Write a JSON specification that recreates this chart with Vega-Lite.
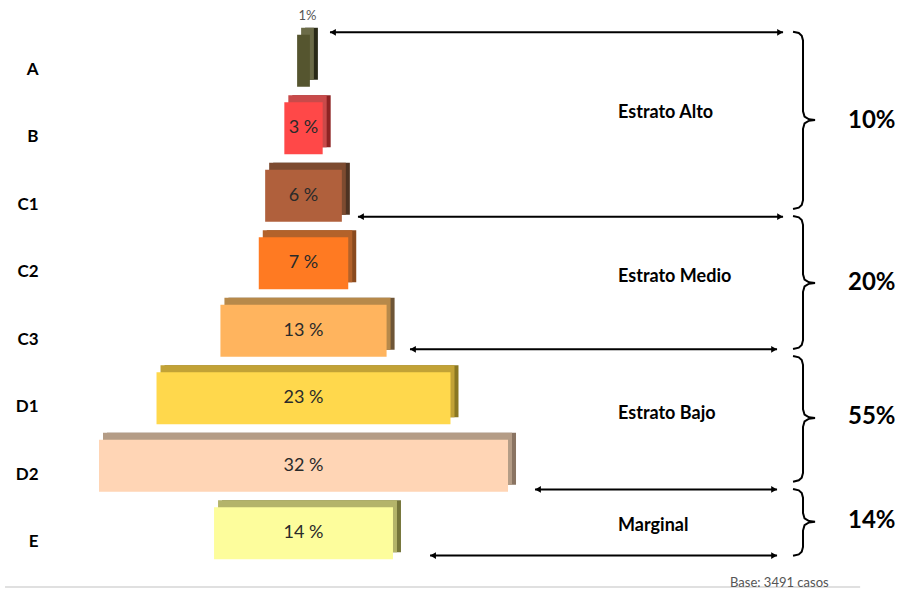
{
  "$schema": "https://vega.github.io/schema/vega-lite/v6.json",
  "width": 854,
  "height": 540,
  "autosize": {"type": "none"},
  "padding": {"left": 45, "top": 27, "right": 0, "bottom": 22},
  "background": "white",
  "config": {"view": {"stroke": null}, "font": "Lato"},
  "datasets": {
    "strata": [
      {"cat": "A", "value": 1, "label": "1%"},
      {"cat": "B", "value": 3, "label": "3 %"},
      {"cat": "C1", "value": 6, "label": "6 %"},
      {"cat": "C2", "value": 7, "label": "7 %"},
      {"cat": "C3", "value": 13, "label": "13 %"},
      {"cat": "D1", "value": 23, "label": "23 %"},
      {"cat": "D2", "value": 32, "label": "32 %"},
      {"cat": "E", "value": 14, "label": "14 %"}
    ],
    "arrows": [
      {"y": 0.079, "x1": 18.07, "x2": 53.52},
      {"y": 2.81, "x1": 20.26, "x2": 53.52},
      {"y": 4.775, "x1": 24.33, "x2": 53.05},
      {"y": 6.85, "x1": 34.11, "x2": 53.05},
      {"y": 7.83, "x1": 25.9, "x2": 53.05}
    ],
    "braces": [
      {"b": 1, "o": 1, "x": 54.3, "y": 0.069}, {"b": 1, "o": 2, "x": 54.75, "y": 0.089}, {"b": 1, "o": 3, "x": 54.98, "y": 0.129}, {"b": 1, "o": 4, "x": 55.08, "y": 0.199}, {"b": 1, "o": 5, "x": 55.08, "y": 1.248}, {"b": 1, "o": 6, "x": 55.2, "y": 1.328}, {"b": 1, "o": 7, "x": 55.55, "y": 1.368}, {"b": 1, "o": 8, "x": 56.02, "y": 1.378}, {"b": 1, "o": 9, "x": 55.55, "y": 1.388}, {"b": 1, "o": 10, "x": 55.2, "y": 1.428}, {"b": 1, "o": 11, "x": 55.08, "y": 1.508}, {"b": 1, "o": 12, "x": 55.08, "y": 2.566}, {"b": 1, "o": 13, "x": 54.98, "y": 2.636}, {"b": 1, "o": 14, "x": 54.75, "y": 2.676}, {"b": 1, "o": 15, "x": 54.3, "y": 2.696},
      {"b": 2, "o": 1, "x": 54.3, "y": 2.8}, {"b": 2, "o": 2, "x": 54.75, "y": 2.82}, {"b": 2, "o": 3, "x": 54.98, "y": 2.86}, {"b": 2, "o": 4, "x": 55.08, "y": 2.93}, {"b": 2, "o": 5, "x": 55.08, "y": 3.663}, {"b": 2, "o": 6, "x": 55.2, "y": 3.743}, {"b": 2, "o": 7, "x": 55.55, "y": 3.783}, {"b": 2, "o": 8, "x": 56.02, "y": 3.793}, {"b": 2, "o": 9, "x": 55.55, "y": 3.803}, {"b": 2, "o": 10, "x": 55.2, "y": 3.843}, {"b": 2, "o": 11, "x": 55.08, "y": 3.923}, {"b": 2, "o": 12, "x": 55.08, "y": 4.64}, {"b": 2, "o": 13, "x": 54.98, "y": 4.71}, {"b": 2, "o": 14, "x": 54.75, "y": 4.75}, {"b": 2, "o": 15, "x": 54.3, "y": 4.77},
      {"b": 3, "o": 1, "x": 54.3, "y": 4.874}, {"b": 3, "o": 2, "x": 54.75, "y": 4.894}, {"b": 3, "o": 3, "x": 54.98, "y": 4.934}, {"b": 3, "o": 4, "x": 55.08, "y": 5.004}, {"b": 3, "o": 5, "x": 55.08, "y": 5.663}, {"b": 3, "o": 6, "x": 55.2, "y": 5.743}, {"b": 3, "o": 7, "x": 55.55, "y": 5.783}, {"b": 3, "o": 8, "x": 56.02, "y": 5.793}, {"b": 3, "o": 9, "x": 55.55, "y": 5.803}, {"b": 3, "o": 10, "x": 55.2, "y": 5.843}, {"b": 3, "o": 11, "x": 55.08, "y": 5.923}, {"b": 3, "o": 12, "x": 55.08, "y": 6.606}, {"b": 3, "o": 13, "x": 54.98, "y": 6.676}, {"b": 3, "o": 14, "x": 54.75, "y": 6.716}, {"b": 3, "o": 15, "x": 54.3, "y": 6.736},
      {"b": 4, "o": 1, "x": 54.3, "y": 6.844}, {"b": 4, "o": 2, "x": 54.75, "y": 6.864}, {"b": 4, "o": 3, "x": 54.98, "y": 6.904}, {"b": 4, "o": 4, "x": 55.08, "y": 6.974}, {"b": 4, "o": 5, "x": 55.08, "y": 7.2}, {"b": 4, "o": 6, "x": 55.2, "y": 7.28}, {"b": 4, "o": 7, "x": 55.55, "y": 7.32}, {"b": 4, "o": 8, "x": 56.02, "y": 7.33}, {"b": 4, "o": 9, "x": 55.55, "y": 7.34}, {"b": 4, "o": 10, "x": 55.2, "y": 7.38}, {"b": 4, "o": 11, "x": 55.08, "y": 7.46}, {"b": 4, "o": 12, "x": 55.08, "y": 7.703}, {"b": 4, "o": 13, "x": 54.98, "y": 7.773}, {"b": 4, "o": 14, "x": 54.75, "y": 7.813}, {"b": 4, "o": 15, "x": 54.3, "y": 7.833}
    ],
    "names": [
      {"t": "Estrato Alto", "x": 40.61, "y": 1.274},
      {"t": "Estrato Medio", "x": 40.61, "y": 3.711},
      {"t": "Estrato Bajo", "x": 40.61, "y": 5.74},
      {"t": "Marginal", "x": 40.61, "y": 7.39}
    ],
    "pcts": [
      {"t": "10%", "x": 58.6, "y": 1.393},
      {"t": "20%", "x": 58.6, "y": 3.79},
      {"t": "55%", "x": 58.6, "y": 5.785},
      {"t": "14%", "x": 58.6, "y": 7.32}
    ],
    "notes": [
      {"t": "Base: 3491 casos", "x": 49.37, "y": 8.237}
    ],
    "baseline": [
      {"x1": -7.35, "x2": 59.55, "y": 8.296}
    ]
  },
  "layer": [
    {
      "data": {"name": "strata"},
      "resolve": {"scale": {"color": "independent"}},
      "layer": [
        {
          "mark": {"type": "bar", "xOffset": 8, "x2Offset": 8, "yOffset": -7, "y2Offset": -7},
          "encoding": {
            "y": {"field": "cat", "type": "nominal", "scale": {"paddingInner": 0.23, "paddingOuter": 0.115}, "axis": {"title": null, "domain": false, "ticks": false, "labelFont": "Lato", "labelFontWeight": "bold", "labelFontSize": 17, "labelColor": "black", "labelPadding": 7, "labelOffset": 9}},
            "x": {"field": "value", "type": "quantitative", "stack": "center", "scale": {"domain": [-4.225, 62.59], "nice": false, "zero": false}, "axis": null},
            "color": {"field": "cat", "type": "nominal", "legend": null, "scale": {"domain": ["A", "B", "C1", "C2", "C3", "D1", "D2", "E"], "range": ["#2a2a18", "#8e2323", "#4e3322", "#8a4a1e", "#6e5536", "#8a7722", "#8a7462", "#75753a"]}}
          }
        },
        {
          "mark": {"type": "bar", "xOffset": 4, "x2Offset": 0.01, "yOffset": -7, "y2Offset": -7},
          "encoding": {
            "y": {"field": "cat", "type": "nominal"},
            "x": {"field": "value", "type": "quantitative", "stack": "center"},
            "color": {"field": "cat", "type": "nominal", "legend": null, "scale": {"domain": ["A", "B", "C1", "C2", "C3", "D1", "D2", "E"], "range": ["#6b6b48", "#c94a4a", "#7d4b30", "#b3622a", "#b7894a", "#c2a236", "#b49c86", "#b4b46a"]}}
          }
        },
        {
          "mark": {"type": "bar"},
          "encoding": {
            "y": {"field": "cat", "type": "nominal"},
            "x": {"field": "value", "type": "quantitative", "stack": "center"},
            "color": {"field": "cat", "type": "nominal", "legend": null, "scale": {"domain": ["A", "B", "C1", "C2", "C3", "D1", "D2", "E"], "range": ["#55552f", "#ff4848", "#b0603c", "#ff7a22", "#ffb45e", "#ffd84c", "#ffd5b5", "#fdfd9c"]}}
          }
        },
        {
          "transform": [{"filter": "datum.value > 1"}],
          "mark": {"type": "text", "font": "Lato", "fontSize": 18, "color": "#2a2a2a"},
          "encoding": {
            "y": {"field": "cat", "type": "nominal"},
            "x": {"datum": 16},
            "text": {"field": "label"}
          }
        },
        {
          "transform": [{"filter": "datum.value == 1"}],
          "mark": {"type": "text", "font": "Lato", "fontSize": 13, "color": "#555555", "dy": -45, "dx": 4},
          "encoding": {
            "y": {"field": "cat", "type": "nominal"},
            "x": {"datum": 16},
            "text": {"field": "label"}
          }
        }
      ]
    },
    {
      "layer": [
        {
          "data": {"name": "baseline"},
          "mark": {"type": "rule", "color": "#e0e0e0", "strokeWidth": 2},
          "encoding": {
            "x": {"field": "x1", "type": "quantitative", "scale": {"domain": [-4.225, 62.59], "nice": false, "zero": false}, "axis": null},
            "x2": {"field": "x2"},
            "y": {"field": "y", "type": "quantitative", "scale": {"domain": [0, 8], "reverse": true, "nice": false, "zero": false}, "axis": null}
          }
        },
        {
          "data": {"name": "arrows"},
          "mark": {"type": "rule", "color": "black", "strokeWidth": 2},
          "encoding": {
            "x": {"field": "x1", "type": "quantitative"},
            "x2": {"field": "x2"},
            "y": {"field": "y", "type": "quantitative"}
          }
        },
        {
          "data": {"name": "arrows"},
          "mark": {"type": "point", "shape": "triangle-left", "filled": true, "color": "black", "opacity": 1, "size": 45, "xOffset": 3},
          "encoding": {
            "x": {"field": "x1", "type": "quantitative"},
            "y": {"field": "y", "type": "quantitative"}
          }
        },
        {
          "data": {"name": "arrows"},
          "mark": {"type": "point", "shape": "triangle-right", "filled": true, "color": "black", "opacity": 1, "size": 45, "xOffset": -3},
          "encoding": {
            "x": {"field": "x2", "type": "quantitative"},
            "y": {"field": "y", "type": "quantitative"}
          }
        },
        {
          "data": {"name": "braces"},
          "mark": {"type": "line", "color": "black", "strokeWidth": 2, "interpolate": "linear"},
          "encoding": {
            "x": {"field": "x", "type": "quantitative"},
            "y": {"field": "y", "type": "quantitative"},
            "detail": {"field": "b", "type": "nominal"},
            "order": {"field": "o", "type": "quantitative"}
          }
        },
        {
          "data": {"name": "names"},
          "mark": {"type": "text", "font": "Lato", "fontWeight": "bold", "fontSize": 18, "color": "black", "align": "left", "baseline": "middle"},
          "encoding": {
            "x": {"field": "x", "type": "quantitative"},
            "y": {"field": "y", "type": "quantitative"},
            "text": {"field": "t"}
          }
        },
        {
          "data": {"name": "pcts"},
          "mark": {"type": "text", "font": "Lato", "fontWeight": "bold", "fontSize": 24, "color": "black", "align": "left", "baseline": "middle"},
          "encoding": {
            "x": {"field": "x", "type": "quantitative"},
            "y": {"field": "y", "type": "quantitative"},
            "text": {"field": "t"}
          }
        },
        {
          "data": {"name": "notes"},
          "mark": {"type": "text", "font": "Lato", "fontSize": 13, "color": "#555555", "align": "left", "baseline": "middle"},
          "encoding": {
            "x": {"field": "x", "type": "quantitative"},
            "y": {"field": "y", "type": "quantitative"},
            "text": {"field": "t"}
          }
        }
      ]
    }
  ],
  "resolve": {"scale": {"y": "independent"}}
}
